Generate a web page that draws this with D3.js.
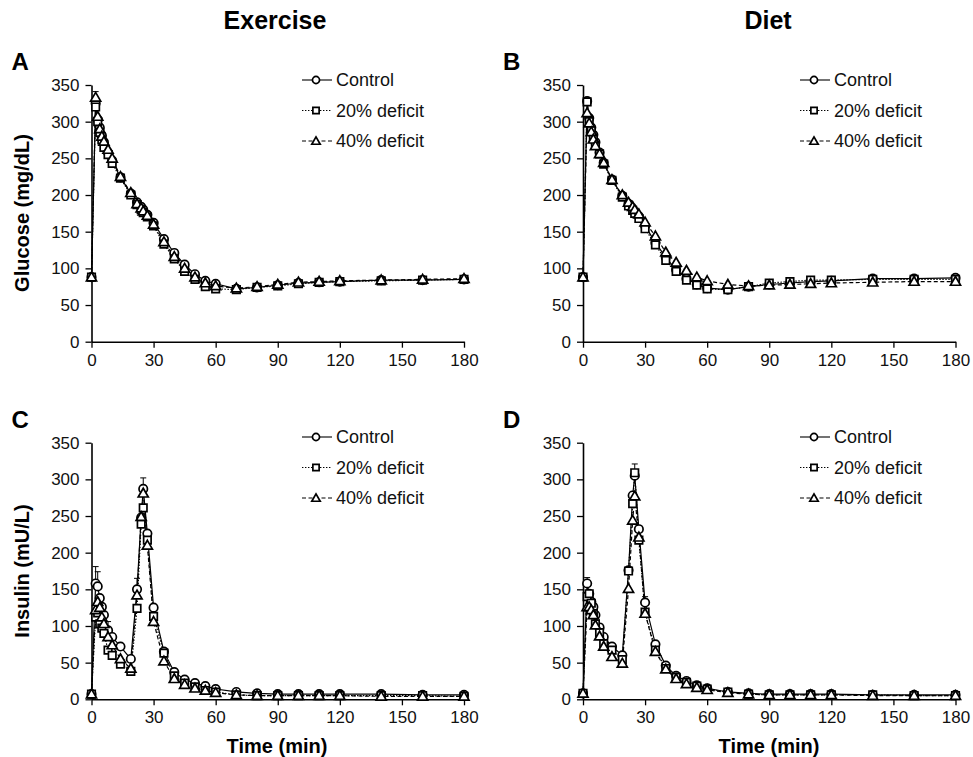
<!DOCTYPE html>
<html><head><meta charset="utf-8">
<script src="https://cdn.jsdelivr.net/npm/d3@7"></script>
<style>body{margin:0;background:#fff;} svg{display:block;font-family:"Liberation Sans",Arial,sans-serif;}</style>
</head><body>
<svg id="c" width="973" height="757"></svg>
<script>
// ---------- DATA ----------
const times = [0,2,3,4,5,6,8,10,14,19,22,24,25,27,30,35,40,45,50,55,60,70,80,90,100,110,120,140,160,180];
const xTicks = [0,30,60,90,120,150,180];
const yTicks = [0,50,100,150,200,250,300,350];
const seriesNames = ["Control","20% deficit","40% deficit"];

// Exercise – glucose (mg/dL)
const exGluControl = [88,325,303,292,281,272,258,247,224,202,190,184,180,173,162,140,121,105,92,83,79,72,74,77,80,81,82,84,84,85];
const exGlu20      = [88,320,300,285,275,265,255,243,223,200,187,180,176,170,158,133,113,96,85,75,72,71,74,76,79,81,82,83,84,85];
const exGlu40      = [88,333,307,290,280,273,262,250,225,203,188,182,178,172,160,136,116,100,88,80,76,73,75,78,81,82,83,84,85,86];
// Diet – glucose (mg/dL)
const dietGluControl = [88,328,305,292,282,272,258,244,221,199,188,181,177,171,158,135,115,98,86,78,73,71,75,78,80,82,83,86,86,87];
const dietGlu20      = [88,327,300,288,278,268,256,242,220,197,185,179,175,168,154,132,111,96,84,77,72,71,75,80,82,84,84,85,85,85];
const dietGlu40      = [88,312,298,286,276,267,256,244,221,200,190,184,180,174,163,144,122,108,97,88,83,78,76,77,78,79,80,81,82,82];
// Exercise – insulin (mU/L)
const exInsControl = [7,158,154,138,126,115,94,85,72,55,150,248,287,226,125,65,37,27,22,18,14,10,8,7,7,7,7,7,6,6];
const exIns20      = [7,112,118,103,97,90,67,60,48,38,124,239,261,217,113,63,32,22,17,12,10,6,5,5,5,5,5,5,5,4];
const exIns40      = [7,122,133,125,112,103,85,74,55,42,142,249,281,210,106,52,28,20,15,12,9,6,5,5,5,5,5,4,4,4];
// Diet – insulin (mU/L)
const dietInsControl = [8,158,144,133,126,115,98,85,72,60,176,278,305,232,132,75,46,32,25,19,15,10,8,7,7,7,7,6,6,6];
const dietIns20      = [8,140,144,131,117,103,91,76,67,54,175,267,309,217,119,67,42,30,23,18,14,10,7,6,6,6,6,6,5,5];
const dietIns40      = [8,126,126,122,115,101,86,72,58,49,151,244,277,221,117,65,41,28,21,16,13,9,7,6,6,6,6,5,5,5];

// standard errors shown in the figure (panel, series index, time, SE)
const errPanel  = ["A","C","C","C","C","C","D","D","D","B"];
const errSeries = [2,0,0,0,0,0,1,0,0,1];
const errTime   = [2,2,3,8,25,22,25,2,30,2];
const errSE     = [8,23,20,12,15,15,12,8,8,5];

// ---------- LAYOUT ----------
const svg = d3.select("#c");
const panels = [
  {id:"A", x0:91.5, yB:341.7, yT:85,  series:[exGluControl,exGlu20,exGlu40], legX:302, legY:80},
  {id:"B", x0:583,  yB:341.7, yT:85,  series:[dietGluControl,dietGlu20,dietGlu40], legX:800, legY:80},
  {id:"C", x0:91.5, yB:699.3, yT:442.7, series:[exInsControl,exIns20,exIns40], legX:302, legY:437},
  {id:"D", x0:583,  yB:699.3, yT:442.7, series:[dietInsControl,dietIns20,dietIns40], legX:800, legY:437}
];
const W = 372.5;
const dashes = [null,"1.4,1.6","4,2.5"];
const sym = [d3.symbolCircle, d3.symbolSquare, d3.symbolTriangle];
const symSize = [56, 56, 44];

function marker(g, i, x, y, sc){
  const s = sc || 1;
  g.append("path").attr("d", d3.symbol().type(sym[i]).size(symSize[i]*s)())
    .attr("transform", `translate(${x},${y + (i===2?0.8:0)})`)
    .attr("fill","#fff").attr("stroke","#000").attr("stroke-width",1.7);
}

panels.forEach(p=>{
  const x = d3.scaleLinear().domain([0,180]).range([p.x0, p.x0+W]);
  const y = d3.scaleLinear().domain([0,350]).range([p.yB, p.yT]);
  const g = svg.append("g");

  // axes
  const ax = g.append("g").attr("transform",`translate(0,${p.yB})`)
    .call(d3.axisBottom(x).tickValues(xTicks).tickSize(6).tickPadding(6).tickSizeOuter(0));
  const ay = g.append("g").attr("transform",`translate(${p.x0},0)`)
    .call(d3.axisLeft(y).tickValues(yTicks).tickSize(6).tickPadding(6).tickSizeOuter(0));
  [ax,ay].forEach(a=>{
    a.select(".domain").attr("stroke","#000").attr("stroke-width",1.6);
    a.selectAll(".tick line").attr("stroke","#000").attr("stroke-width",1.3);
    a.selectAll(".tick text").attr("font-size",17).attr("fill","#111")
     .attr("font-family",'"Liberation Sans",Arial,sans-serif');
  });

  // error bars
  errPanel.forEach((pid,k)=>{
    if(pid!==p.id) return;
    const s = p.series[errSeries[k]];
    const ti = times.indexOf(errTime[k]);
    const v = s[ti], e = errSE[k];
    const cx = x(errTime[k]);
    g.append("line").attr("x1",cx).attr("x2",cx).attr("y1",y(v)).attr("y2",y(v+e)).attr("stroke","#000").attr("stroke-width",1);
    g.append("line").attr("x1",cx-3).attr("x2",cx+3).attr("y1",y(v+e)).attr("y2",y(v+e)).attr("stroke","#000").attr("stroke-width",1);
  });

  // lines
  const line = d3.line().x((d,i)=>x(times[i])).y(d=>y(d));
  p.series.forEach((s,i)=>{
    g.append("path").datum(s).attr("d",line).attr("fill","none")
      .attr("stroke","#000").attr("stroke-width",1.2)
      .attr("stroke-dasharray",dashes[i]);
  });
  // markers
  p.series.forEach((s,i)=>{
    s.forEach((v,j)=>marker(g,i,x(times[j]),y(v)));
  });

  // legend
  seriesNames.forEach((n,i)=>{
    const ly = p.legY + i*30.5;
    g.append("line").attr("x1",p.legX).attr("x2",p.legX+30).attr("y1",ly).attr("y2",ly)
      .attr("stroke","#000").attr("stroke-width",1.1).attr("stroke-dasharray",dashes[i]);
    marker(g,i,p.legX+14,ly,0.7);
    g.append("text").attr("x",p.legX+34).attr("y",ly).attr("dy","0.35em")
      .attr("font-size",18).attr("fill","#111").text(n);
  });

  // panel letter
  svg.append("text").attr("x",p.x0-80).attr("y",p.yT-15).attr("font-size",24).attr("font-weight","bold")
    .text(p.id);
});

// titles
svg.append("text").attr("x",275).attr("y",29).attr("text-anchor","middle").attr("font-size",25).attr("font-weight","bold").text("Exercise");
svg.append("text").attr("x",768).attr("y",29).attr("text-anchor","middle").attr("font-size",25).attr("font-weight","bold").text("Diet");
// y labels
svg.append("text").attr("transform","translate(29,213) rotate(-90)").attr("text-anchor","middle").attr("font-size",20).attr("font-weight","bold").text("Glucose (mg/dL)");
svg.append("text").attr("transform","translate(29,571) rotate(-90)").attr("text-anchor","middle").attr("font-size",20).attr("font-weight","bold").text("Insulin (mU/L)");
// x labels
svg.append("text").attr("x",277).attr("y",753).attr("text-anchor","middle").attr("font-size",20).attr("font-weight","bold").text("Time (min)");
svg.append("text").attr("x",769).attr("y",753).attr("text-anchor","middle").attr("font-size",20).attr("font-weight","bold").text("Time (min)");
</script>
</body></html>
